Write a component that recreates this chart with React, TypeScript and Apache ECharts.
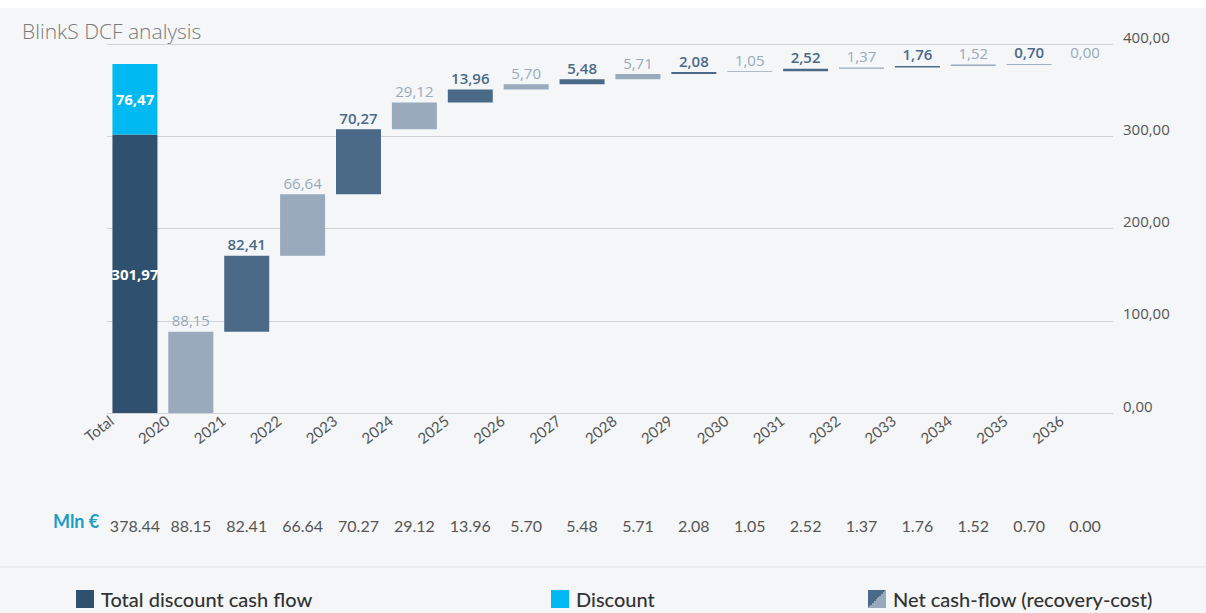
import React, { useEffect, useRef } from "react";
import * as echarts from "echarts";

const categories = ["Total", "2020", "2021", "2022", "2023", "2024", "2025", "2026", "2027", "2028", "2029", "2030", "2031", "2032", "2033", "2034", "2035", "2036"];
const totalDiscountCashFlow = 301.97;
const discountValue = 76.47;
const netCashFlow = [88.15, 82.41, 66.64, 70.27, 29.12, 13.96, 5.7, 5.48, 5.71, 2.08, 1.05, 2.52, 1.37, 1.76, 1.52, 0.7, 0.0];
const yMin = 0;
const yMax = 400;
const yInterval = 100;

const TITLE = "BlinkS DCF analysis";
const UNIT = "Mln €";
const NAME_TOTAL = "Total discount cash flow";
const NAME_DISCOUNT = "Discount";
const NAME_NET = "Net cash-flow (recovery-cost)";

const C_TOTAL = "#30506f";
const C_DISCOUNT = "#00b9f2";
const C_DARK = "#4b6a88";
const C_LIGHT = "#98aabb";
const BG = "#f4f6f8";

const comma = (v: number) => v.toFixed(2).replace(".", ",");

export default function App() {
  const ref = useRef<HTMLDivElement>(null);
  useEffect(() => {
    if (!ref.current) return;
    const chart = echarts.init(ref.current, undefined, { renderer: "svg" });
    const empty = netCashFlow.map(() => "-");
    const bases: (number | string)[] = ["-"];
    let acc = 0;
    netCashFlow.forEach((v) => {
      bases.push(+acc.toFixed(2));
      acc += v;
    });
    const rowValues = [totalDiscountCashFlow + discountValue, ...netCashFlow].map((v) => v.toFixed(2));
    const netData = ["-", ...netCashFlow.map((v, i) => {
      const c = i % 2 === 0 ? C_LIGHT : C_DARK;
      return {
        value: v,
        itemStyle: { color: c },
        label: { color: c, fontWeight: i % 2 === 0 ? "normal" : 600 },
      };
    })];
    const font = "'Open Sans', sans-serif";
    const option: any = {
      animation: false,
      backgroundColor: BG,
      title: {
        text: TITLE,
        left: 17,
        top: 7,
        textStyle: { fontFamily: font, fontSize: 21, fontWeight: 300, color: "#7a7a7a" },
      },
      legend: [
        { name: NAME_TOTAL, left: 76 },
        { name: NAME_DISCOUNT, left: 551 },
        { name: NAME_NET, left: 868 },
      ].map((l, i) => ({
        left: l.left,
        top: 581,
        padding: 0,
        icon: "rect",
        itemWidth: 18,
        itemHeight: 18,
        itemGap: 6,
        selectedMode: false,
        textStyle: { fontFamily: "Lato, sans-serif", fontSize: 20, color: "#333", fontWeight: 500, padding: [0, 0, 0, 2] },
        data: [
          i === 2
            ? {
                name: l.name,
                itemStyle: {
                  color: new echarts.graphic.LinearGradient(0, 0, 1, 1, [
                    { offset: 0, color: C_DARK },
                    { offset: 0.5, color: C_DARK },
                    { offset: 0.5, color: C_LIGHT },
                    { offset: 1, color: C_LIGHT },
                  ]),
                },
              }
            : { name: l.name },
        ],
      })),
      grid: { left: 107, right: 93, top: 36, bottom: 200 },
      xAxis: [
        {
          type: "category",
          data: categories,
          axisLine: { show: false },
          axisTick: { show: false },
          axisLabel: {
            interval: 0,
            rotate: 38,
            margin: -13,
            padding: [0, 30, 0, 0],
            fontFamily: "Lato, sans-serif",
            fontSize: 15,
            color: "#555",
          },
        },
        {
          type: "category",
          data: categories,
          position: "bottom",
          offset: 100,
          axisLine: { show: false },
          axisTick: { show: false },
          axisLabel: {
            interval: 0,
            margin: 4,
            fontFamily: "Lato, sans-serif",
            fontSize: 16,
            color: "#555",
            formatter: (_: string, idx: number) => rowValues[idx],
          },
        },
      ],
      yAxis: {
        type: "value",
        position: "right",
        min: yMin,
        max: yMax,
        interval: yInterval,
        axisLine: { show: false },
        axisTick: { show: false },
        splitLine: { lineStyle: { color: "#cfd3d7", width: 1 } },
        axisLabel: {
          margin: 10,
          verticalAlign: "bottom",
          fontFamily: font,
          fontSize: 15,
          color: "#555",
          formatter: (v: number) => comma(v),
        },
      },
      graphic: [
        {
          type: "text",
          left: 53,
          top: 504,
          style: { text: UNIT, fontFamily: "Lato, sans-serif", fontSize: 18, fontWeight: "bold", fill: "#1d9dc2" },
        },
        {
          type: "line",
          shape: { x1: 0, y1: 559, x2: 1206, y2: 559 },
          style: { stroke: "#dde1e5", lineWidth: 1 },
        },
      ],
      series: [
        {
          name: NAME_TOTAL,
          type: "bar",
          stack: "w",
          barWidth: 45,
          itemStyle: { color: C_TOTAL },
          label: {
            show: true,
            position: "inside",
            color: "#fff",
            fontFamily: font,
            fontSize: 15,
            fontWeight: "bold",
            formatter: (p: any) => comma(p.value),
          },
          data: [totalDiscountCashFlow, ...empty],
        },
        {
          name: NAME_DISCOUNT,
          type: "bar",
          stack: "w",
          barWidth: 45,
          itemStyle: { color: C_DISCOUNT },
          label: {
            show: true,
            position: "inside",
            color: "#fff",
            fontFamily: font,
            fontSize: 15,
            fontWeight: "bold",
            formatter: (p: any) => comma(p.value),
          },
          data: [discountValue, ...empty],
        },
        {
          name: "base",
          type: "bar",
          stack: "w",
          barWidth: 45,
          silent: true,
          itemStyle: { color: "transparent" },
          label: { show: false },
          data: bases,
        },
        {
          name: NAME_NET,
          type: "bar",
          stack: "w",
          barWidth: 45,
          itemStyle: { color: C_DARK },
          label: {
            show: true,
            position: "top",
            distance: 4,
            fontFamily: font,
            fontSize: 15,
            formatter: (p: any) => comma(p.value),
          },
          data: netData,
        },
      ],
    };
    chart.setOption(option);
    return () => chart.dispose();
  }, []);
  return (
    <div
      ref={ref}
      style={{ position: "absolute", left: 0, top: 8, width: 1206, height: 605 }}
    />
  );
}
